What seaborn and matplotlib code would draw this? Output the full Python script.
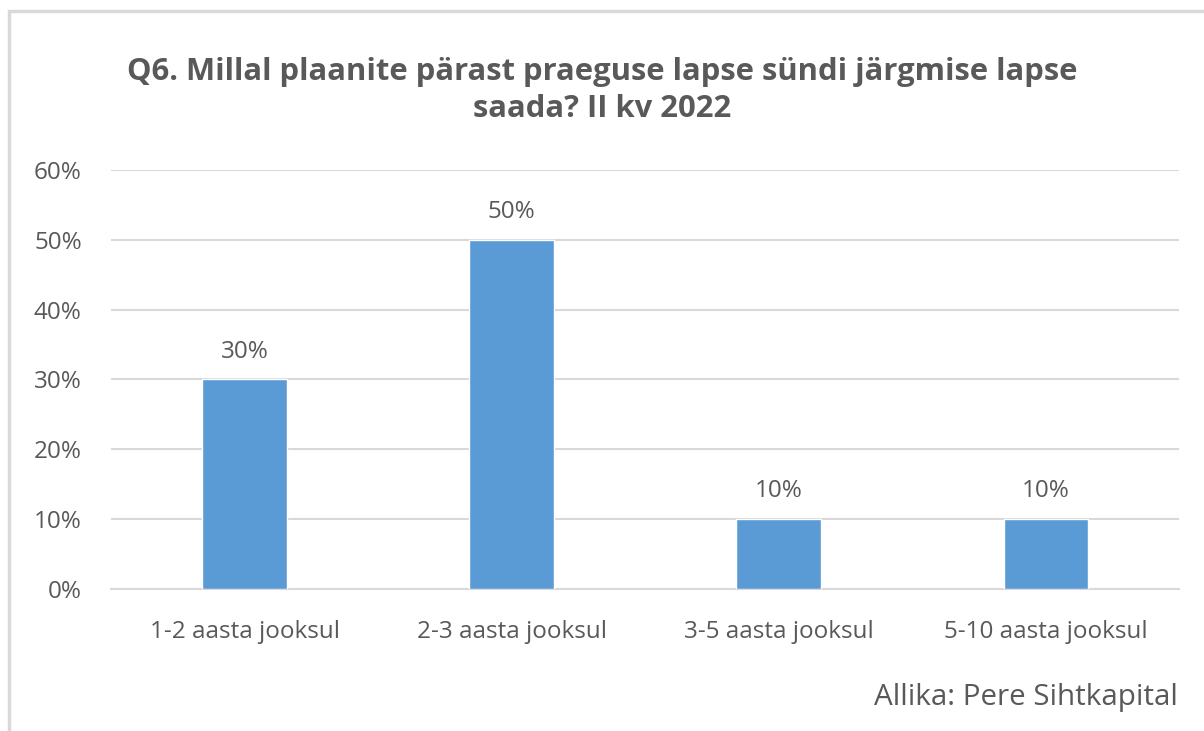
import pandas as pd
import seaborn as sb
import matplotlib.pyplot as plt
from matplotlib.patches import Rectangle

# data
categories = ["1-2 aasta jooksul", "2-3 aasta jooksul", "3-5 aasta jooksul", "5-10 aasta jooksul"]
shares = [30, 50, 10, 10]
yticks = [0, 10, 20, 30, 40, 50, 60]

oData = pd.DataFrame({"category": categories, "share": shares})

sb.set_style("white")
plt.rcParams['font.family'] = ['Open Sans', 'DejaVu Sans']

txt = "#595959"
fig = plt.figure(figsize=(12.04, 7.31), dpi=100, facecolor='w')
ax = fig.add_axes([0.0922, 0.1943, 0.8871, 0.5731])

sb.barplot(x="category", y="share", data=oData, color="#5B9BD5",
           width=0.315, saturation=1, ax=ax, zorder=3)

ax.set_ylim(0, 60)
ax.set_xlim(-0.5, 3.5)
ax.set_yticks(yticks)
ax.set_yticklabels([f"{v}%" for v in yticks])
ax.yaxis.grid(True, color="#D9D9D9", linewidth=1.5, zorder=0)
ax.set_axisbelow(True)
for s in ["top", "right", "left"]:
    ax.spines[s].set_visible(False)
ax.spines["bottom"].set_color("#D9D9D9")
ax.spines["bottom"].set_linewidth(1.5)
ax.tick_params(axis="both", length=0, labelsize=17.5, colors=txt)
ax.tick_params(axis="y", pad=21)
ax.tick_params(axis="x", pad=22)
ax.set_xlabel("")
ax.set_ylabel("")

# value labels
for i, v in enumerate(shares):
    ax.text(i, v + 4.0, f"{v}%", ha="center", va="center", fontsize=17.5, color=txt)

fig.text(0.5, 0.876, "Q6. Millal plaanite pärast praeguse lapse sündi järgmise lapse\nsaada? II kv 2022",
         ha="center", va="center", fontsize=22.3, fontweight="bold", color=txt, linespacing=1.32)
fig.text(0.978, 0.0465, "Allika: Pere Sihtkapital", ha="right", va="center", fontsize=21.3, color=txt)

# chart frame
fig.patches.append(Rectangle((9 / 1204, -0.1), 1.2, 1 - 11 / 731 + 0.1, transform=fig.transFigure,
                             fill=False, edgecolor="#D9D9D9", linewidth=2.5))

fig.savefig("out.png", dpi=100)
